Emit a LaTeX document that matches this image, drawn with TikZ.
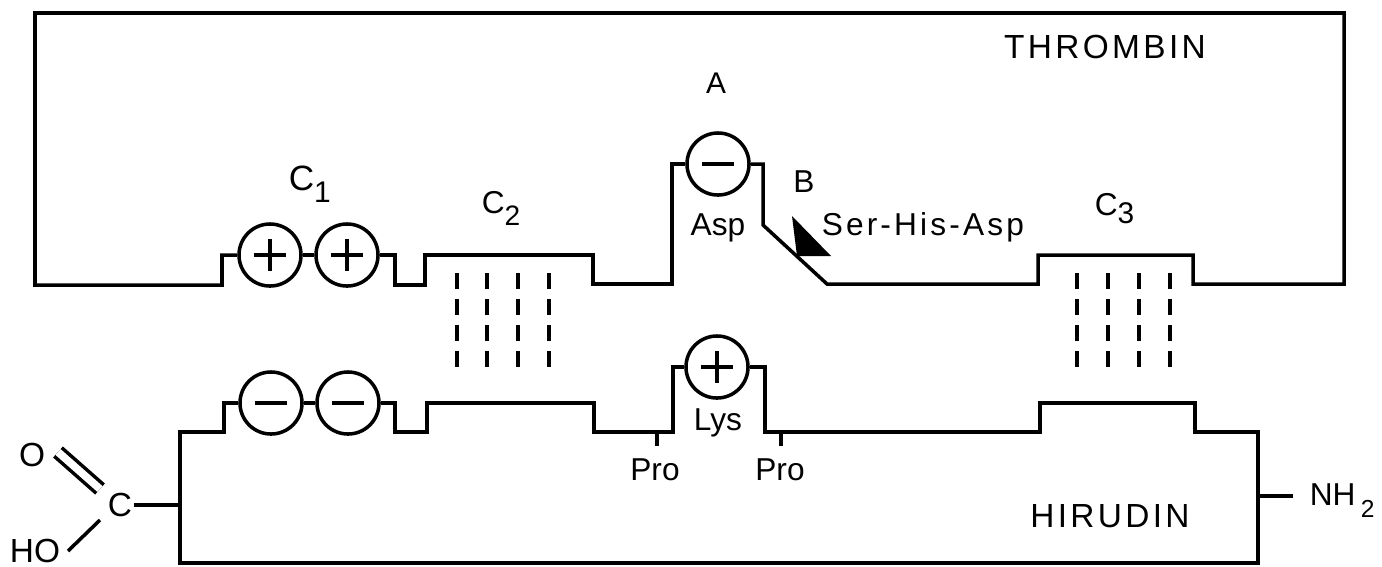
\documentclass[tikz,border=0pt]{standalone}
\usepackage{fontspec}
\setmainfont{Liberation Sans}
\newfontfamily\widefont[LetterSpace=10]{Liberation Sans}
\usetikzlibrary{calc}

\begin{document}
\begin{tikzpicture}[x=0.01cm,y=-0.01cm,line width=1pt,
    chg/.style={circle,draw,minimum size=0.62cm,inner sep=0pt},
    plusion/.style={chg,path picture={
        \draw (path picture bounding box.center) ++(-16,0) -- ++(32,0);
        \draw (path picture bounding box.center) ++(0,-16) -- ++(0,32);}},
    minusion/.style={chg,path picture={
        \draw (path picture bounding box.center) ++(-16,0) -- ++(32,0);}},
    hbond/.style={line width=1.3pt,dash pattern=on 4.6pt off 2.8pt},
    txt/.style={inner sep=0pt,font=\fontsize{9}{10}\selectfont},
    big/.style={inner sep=0pt,font=\widefont\fontsize{9.5}{11}\selectfont}]
\useasboundingbox (0,0) rectangle (1382,566);

% thrombin
\node[plusion] (c1a) at (270,255) {};
\node[plusion] (c1b) at (347,255) {};
\node[minusion] (asp) at (718,164) {};
\draw (c1a.west) -- (222,255) -- (222,285) -- (35,285) -- (35,13) -- (1344,13) -- (1344,284)
  -- (1193,284) -- (1193,255) -- (1038,255) -- (1038,284) -- (827,284) -- (763,225)
  -- (763,164) -- (asp.east);
\draw (asp.west) -- (672,164) -- (672,284) -- (593,284) -- (593,255) -- (425,255)
  -- (425,285) -- (395,285) -- (395,255) -- (c1b.east);
\draw (c1a.east) -- (c1b.west);
\fill (792,216) -- (831,256) -- (797,256) -- cycle;

% hirudin
\node[minusion] (h1a) at (271,403) {};
\node[minusion] (h1b) at (348,403) {};
\node[plusion] (lys) at (717,367) {};
\draw (h1a.west) -- (224,403) -- (224,432) -- (180,432) -- (180,563) -- (1258,563)
  -- (1258,432) -- (1195,432) -- (1195,403) -- (1040,403) -- (1040,432) -- (765,432)
  -- (765,367) -- (lys.east);
\draw (lys.west) -- (673,367) -- (673,432) -- (594,432) -- (594,403) -- (427,403)
  -- (427,432) -- (395,432) -- (395,403) -- (h1b.east);
\draw (h1a.east) -- (h1b.west);

% contacts
\foreach \x in {457,487,518,549,1077,1108,1139,1170}
  \draw[hbond] (\x,273) -- (\x,368);

% labels
\node[big,anchor=base] (thr) at (1105,58) {THROMBIN};
\node[big,anchor=base] (hir) at (1110,527) {HIRUDIN};
\node[txt,anchor=base,font=\fontsize{8.5}{9}\selectfont] (la) at (716,93) {A};
\node[txt,anchor=base,font=\fontsize{9}{10}\selectfont] (lb) at (804,192) {B};
\node[txt,anchor=base] (lasp) at (718,235) {Asp};
\node[txt,anchor=base west,font=\widefont\fontsize{9}{10}\selectfont] (triad) at (820,235) {Ser-His-Asp};
\node[txt,anchor=base] (llys) at (718,430) {Lys};
\node[txt,anchor=base] (pro1) at (655,480) {Pro};
\node[txt,anchor=base] (pro2) at (780,480) {Pro};
\draw (pro1.north) ++(2,-10) -- ++(0,-16);
\draw (pro2.north) ++(1,-10) -- ++(0,-16);
\node[txt,anchor=base west,font=\fontsize{10}{12}\selectfont] (lc1) at (287,190)
  {C\raisebox{-3.5pt}{\fontsize{8.5}{10}\selectfont 1}};
\node[txt,anchor=base west,font=\fontsize{9}{11}\selectfont] (lc2) at (480,213)
  {C\raisebox{-3.5pt}{\fontsize{8}{10}\selectfont 2}};
\node[txt,anchor=base west,font=\fontsize{9}{11}\selectfont] (lc3) at (1093,215)
  {C\raisebox{-2.5pt}{\fontsize{8.5}{10}\selectfont 3}};

% carboxyl and amino ends
\node[txt,font=\fontsize{9.5}{11}\selectfont] (oxo) at (32,455) {O};
\node[txt,font=\fontsize{9.5}{11}\selectfont] (carb) at (120,505) {C};
\node[txt,anchor=base,font=\fontsize{9.5}{11}\selectfont] (hyd) at (35,562) {HO};
\draw[double,double distance=2.2pt] ($(oxo)+(26,-3)$) -- ($(carb)+(-20,-16)$);
\draw ($(carb)+(-20,15)$) -- ($(carb)+(-52,46)$);
\coordinate (hc) at (180,505);
\draw (carb.east) -- (hc);
\coordinate (hn) at (1258,496);
\draw (hn) -- ++(35,0);
\node[txt,anchor=base west] (amine) at (1308,505) {NH\,\raisebox{-3.5pt}{\fontsize{7}{8}\selectfont 2}};
\end{tikzpicture}
\end{document}
